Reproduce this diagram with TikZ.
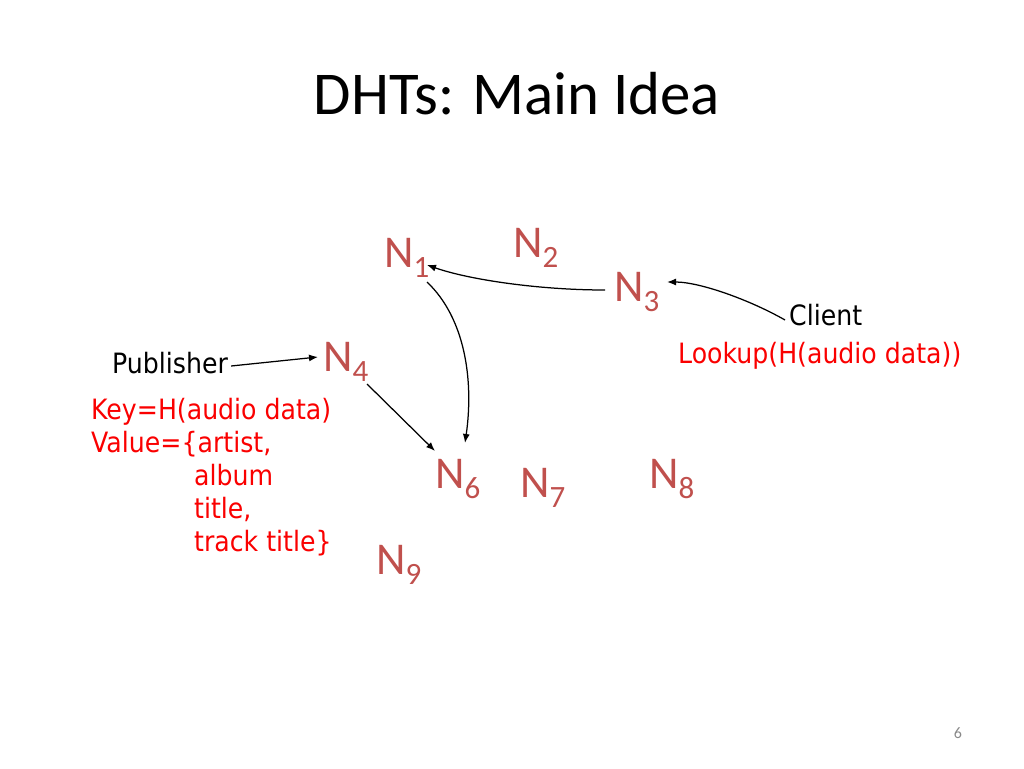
\documentclass[tikz,border=0pt]{standalone}
\usepackage{fontspec}
\setmainfont{Carlito}
\newfontfamily\tah[FakeStretch=0.9]{DejaVu Sans}
\usetikzlibrary{arrows.meta}
\definecolor{nodecol}{RGB}{192,80,77}
\definecolor{txtred}{RGB}{250,0,0}
\definecolor{pagegray}{RGB}{137,137,137}
\newcommand{\nsb}[1]{N\raisebox{-10pt}{\fontsize{31}{31}\selectfont #1}}
\tikzset{
  nlabel/.style={anchor=base west, inner sep=0pt, text=nodecol, font=\fontsize{45.5}{50}\selectfont},
  blk/.style={anchor=base west, inner sep=0pt, text=black, font=\tah\fontsize{28}{33}\selectfont},
  rtxt/.style={anchor=base west, inner sep=0pt, text=txtred, font=\tah\fontsize{28}{33}\selectfont},
  arr/.style={draw=black, line width=1.25pt, -{Latex[length=9pt,width=7pt]}}
}
\begin{document}
\begin{tikzpicture}[x=1pt,y=-1pt]
\useasboundingbox (0,0) rectangle (1024,768);
% title
\node[anchor=base, inner sep=0pt, font=\fontsize{60.8}{70}\selectfont] (title) at (517,114) {DHTs: Main Idea};
% DHT nodes
\node[nlabel] (n1) at (384,267) {\nsb{1}};
\node[nlabel] (n2) at (513,257) {\nsb{2}};
\node[nlabel] (n3) at (614,301) {\nsb{3}};
\node[nlabel] (n4) at (323,371) {\nsb{4}};
\node[nlabel] (n6) at (435,488) {\nsb{6}};
\node[nlabel] (n7) at (520,497) {\nsb{7}};
\node[nlabel] (n8) at (649,488) {\nsb{8}};
\node[nlabel] (n9) at (376,574) {\nsb{9}};
% labels
\node[blk] (pub) at (112,373) {Publisher};
\node[blk] (client) at (789,325) {Client};
\node[rtxt] (lookup) at (678,363) {Lookup(H(audio data))};
\node[rtxt] (key) at (91,419) {Key=H(audio data)};
\node[rtxt] (val) at (91,452) {Value=\{artist,};
\node[rtxt] (alb) at (194,485) {album};
\node[rtxt] (tit) at (194,518) {title,};
\node[rtxt] (trk) at (194,551) {track title\}};
% page number
\node[inner sep=0pt, text=pagegray, font=\fontsize{16}{20}\selectfont] (pg) at (958,733) {6};
% connectors
\draw[arr] ([shift={(-9,-11)}]n3.base west) .. controls (540,290) and (470,280) .. ([shift={(43,-2)}]n1.base west);
\draw[arr] ([shift={(-4,-5)}]client.base west) .. controls (750,300) and (700,282) .. ([shift={(53,-19)}]n3.base west);
\draw[arr] ([shift={(3,-7)}]pub.base east) -- ([shift={(-5,-14)}]n4.base west);
\draw[arr] ([shift={(44,13)}]n4.base west) -- ([shift={(0,-37)}]n6.base west);
\draw[arr] ([shift={(43,15)}]n1.base west) .. controls (465,318) and (474,380) .. ([shift={(30,-45)}]n6.base west);
\end{tikzpicture}
\end{document}
